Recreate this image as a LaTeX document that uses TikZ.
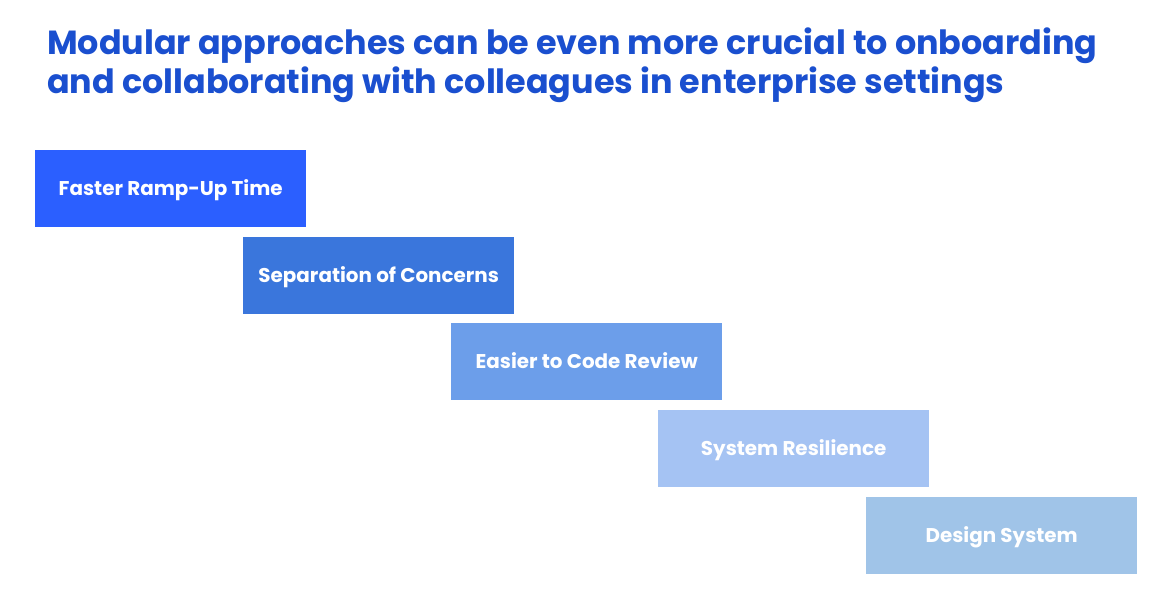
\documentclass[tikz,border=0pt]{standalone}
\usepackage{fontspec}
\setmainfont{Poppins}
\definecolor{titleblue}{HTML}{1A4FCF}
\definecolor{cA}{HTML}{2B5FFF}
\definecolor{cB}{HTML}{3A76DC}
\definecolor{cC}{HTML}{6C9EEA}
\definecolor{cD}{HTML}{A5C3F3}
\definecolor{cE}{HTML}{A0C4E8}
\begin{document}
\begin{tikzpicture}[x=1pt,y=-1pt,
  stepbox/.style={fill=#1,draw=none,minimum width=271pt,minimum height=77pt,inner sep=0pt,
    text height=14pt,text depth=0pt,
    text=white,font=\fontsize{19.9}{22}\selectfont\bfseries,anchor=north west},
  titletext/.style={anchor=base west,inner sep=0pt,text=titleblue,font=\fontsize{33.4}{40}\selectfont\bfseries}]
\useasboundingbox (0,0) rectangle (1163,616);
\node[titletext] (t1) at (47,54) {Modular approaches can be even more crucial to onboarding};
\node[titletext] (t2) at (47,93) {and collaborating with colleagues in enterprise settings};
\node[stepbox=cA] (b1) at (35,150) {Faster Ramp-Up Time};
\node[stepbox=cB] (b2) at (243,237) {Separation of Concerns};
\node[stepbox=cC] (b3) at (451,323) {Easier to Code Review};
\node[stepbox=cD] (b4) at (658,410) {System Resilience};
\node[stepbox=cE] (b5) at (866,497) {Design System};
\end{tikzpicture}
\end{document}
